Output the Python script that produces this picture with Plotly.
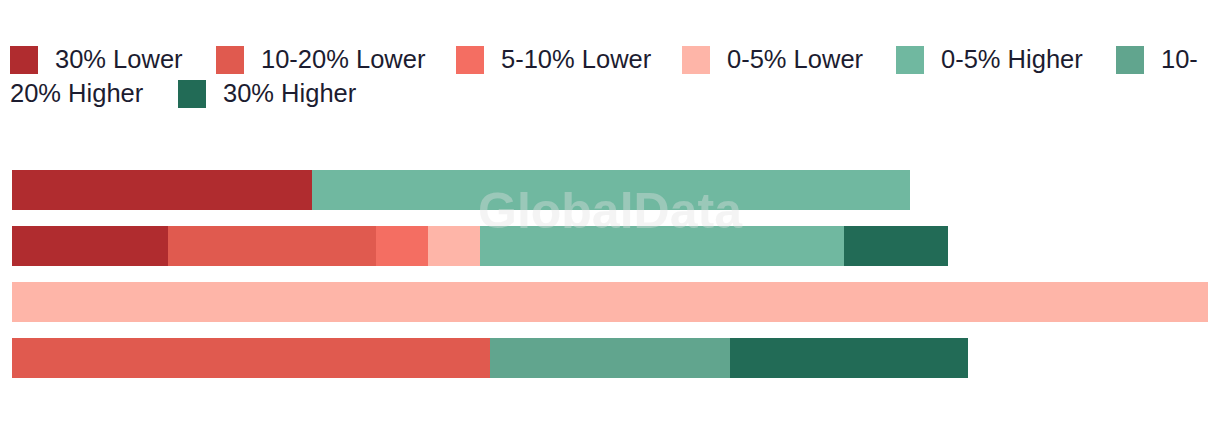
import plotly.graph_objects as go

# ---------------- data ----------------
categories = ["Row 1", "Row 2", "Row 3", "Row 4"]
series_names = ["30% Lower", "10-20% Lower", "5-10% Lower", "0-5% Lower",
                "0-5% Higher", "10-20% Higher", "30% Higher"]
lower_30 = [5.77, 3.0, 0.0, 0.0]
lower_10_20 = [0.0, 4.0, 0.0, 9.19]
lower_5_10 = [0.0, 1.0, 0.0, 0.0]
lower_0_5 = [0.0, 1.0, 23.0, 0.0]
higher_0_5 = [11.5, 7.0, 0.0, 0.0]
higher_10_20 = [0.0, 0.0, 0.0, 4.62]
higher_30 = [0.0, 2.0, 0.0, 4.58]
series_values = [lower_30, lower_10_20, lower_5_10, lower_0_5,
                 higher_0_5, higher_10_20, higher_30]

# ---------------- style ----------------
colors = ["#b02c2f", "#e05a4f", "#f46e62", "#feb5a8",
          "#70b8a0", "#61a58e", "#226b56"]
PAGE_OFF = 8  # default page body margin
W, H = 1220 - PAGE_OFF, 422 - PAGE_OFF
ML, MR, MT, MB = 4, 12, 154, 36
PW, PH = W - ML - MR, H - MT - MB
FONT = "Liberation Sans"
FSIZE = 25.5
TEXT_COLOR = "#1c1c30"


def px_x(rx):
    return (rx - PAGE_OFF - ML) / PW


def px_y(ry):
    return (H - MB - (ry - PAGE_OFF)) / PH


fig = go.Figure()
for name, vals, col in zip(series_names, series_values, colors):
    fig.add_trace(go.Bar(
        y=categories, x=vals, name=name, orientation="h",
        marker=dict(color=col, line=dict(width=0)),
        showlegend=False,
    ))

# ---------------- manual legend (wrapping like the reference) ----------------
legend_slots = [  # (swatch left, swatch top, series index)
    (10, 46, 0),
    (216, 46, 1),
    (456, 46, 2),
    (682, 46, 3),
    (896, 46, 4),
    (1116, 46, 5),
    (178, 80, 6),
]
shapes = []
annotations = []
SW = 28
TXT_DX = 43


def label_ann(text, rx, ry):
    return dict(text=text, x=px_x(rx), y=px_y(ry),
                xref="paper", yref="paper", xanchor="left", yanchor="middle",
                showarrow=False, font=dict(family=FONT, size=FSIZE, color=TEXT_COLOR))


for sx, sy, idx in legend_slots:
    shapes.append(dict(type="rect", xref="paper", yref="paper",
                       x0=px_x(sx), x1=px_x(sx + SW),
                       y0=px_y(sy + SW), y1=px_y(sy),
                       fillcolor=colors[idx], line=dict(width=0)))
    label = series_names[idx]
    if idx == 5:
        first, rest = label.split("-", 1)
        annotations.append(label_ann(first + "-", sx + TXT_DX, sy + SW / 2 - 1))
        annotations.append(label_ann(rest, 8, 80 + SW / 2 - 1))
    else:
        annotations.append(label_ann(label, sx + TXT_DX, sy + SW / 2 - 1))

# watermark
annotations.append(dict(text="<b>GlobalData</b>", x=px_x(610), y=px_y(211),
                        xref="paper", yref="paper", xanchor="center", yanchor="middle",
                        showarrow=False,
                        font=dict(family="Liberation Sans", size=50,
                                  color="rgba(225,225,225,0.38)")))

fig.update_layout(
    barmode="stack",
    bargap=16 / 56,
    width=W, height=H,
    margin=dict(l=ML, r=MR, t=MT, b=MB, pad=0),
    paper_bgcolor="white", plot_bgcolor="white",
    showlegend=False,
    shapes=shapes,
    annotations=annotations,
    xaxis=dict(range=[0, 23], visible=False, fixedrange=True),
    yaxis=dict(autorange="reversed", visible=False, fixedrange=True),
    font=dict(family=FONT, color=TEXT_COLOR),
)

fig.write_html("out.html")
